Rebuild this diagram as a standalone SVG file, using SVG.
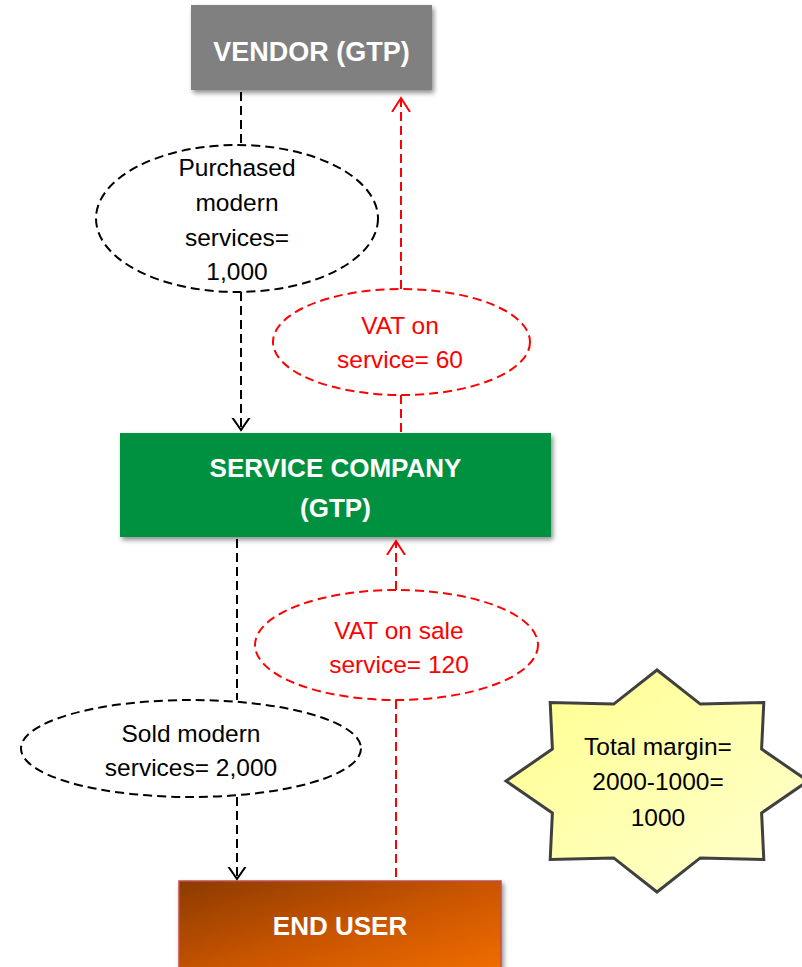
<svg xmlns="http://www.w3.org/2000/svg" width="802" height="967" viewBox="0 0 802 967">
  <style>
    .box-label { font-family: "Liberation Sans", Arial, sans-serif; font-weight: bold; fill: #ffffff; text-anchor: middle; }
    .label { font-family: "Liberation Sans", Arial, sans-serif; font-size: 24.5px; text-anchor: middle; }
    .black { fill: #000000; }
    .red { fill: #ff0000; }
    .flow { fill: none; stroke: #000000; stroke-width: 2; stroke-dasharray: 9 5; }
    .vat { fill: none; stroke: #ff0000; stroke-width: 2; stroke-dasharray: 9 5; }
    .bubble { fill: #ffffff; stroke: #000000; stroke-width: 2; stroke-dasharray: 9 5; }
    .bubble-red { fill: #ffffff; stroke: #ff0000; stroke-width: 2; stroke-dasharray: 9 5; }
  </style>
  <defs>
    <filter id="shadow" x="-10%" y="-10%" width="120%" height="130%">
      <feGaussianBlur in="SourceAlpha" stdDeviation="2.5"/>
      <feOffset dx="2" dy="3" result="blur"/>
      <feComponentTransfer><feFuncA type="linear" slope="0.45"/></feComponentTransfer>
      <feMerge><feMergeNode/><feMergeNode in="SourceGraphic"/></feMerge>
    </filter>
    <linearGradient id="endUserFill" x1="0" y1="0" x2="1" y2="1">
      <stop offset="0" stop-color="#8c3a00"/>
      <stop offset="0.5" stop-color="#c95500"/>
      <stop offset="1" stop-color="#f57000"/>
    </linearGradient>
    <linearGradient id="starFill" x1="0" y1="0" x2="1" y2="1">
      <stop offset="0" stop-color="#ffff8c"/>
      <stop offset="1" stop-color="#ffffd2"/>
    </linearGradient>
    <marker id="arrowBlack" viewBox="-12 -12 24 24" markerWidth="24" markerHeight="24" refX="0" refY="0" orient="auto" markerUnits="userSpaceOnUse">
      <path d="M -13 -9 L 0 0 L -13 9" fill="none" stroke="#000000" stroke-width="2"/>
    </marker>
    <marker id="arrowRed" viewBox="-14 -12 28 24" markerWidth="28" markerHeight="24" refX="0" refY="0" orient="auto" markerUnits="userSpaceOnUse">
      <path d="M -14 -9 L 0 0 L -14 9" fill="none" stroke="#ff0000" stroke-width="2"/>
    </marker>
  </defs>

  <rect width="802" height="967" fill="#ffffff"/>

  <!-- flows between the parties -->
  <g id="connectors">
    <line class="flow" x1="241" y1="92" x2="241" y2="145"/>
    <line class="flow" x1="241" y1="292" x2="241" y2="430" marker-end="url(#arrowBlack)"/>
    <line class="flow" x1="237" y1="539" x2="237" y2="700"/>
    <line class="flow" x1="237" y1="797" x2="237" y2="879" marker-end="url(#arrowBlack)"/>
    <line class="vat" x1="401" y1="289" x2="401" y2="98" marker-end="url(#arrowRed)"/>
    <line class="vat" x1="401" y1="395" x2="401" y2="433"/>
    <line class="vat" x1="396" y1="590" x2="396" y2="541" marker-end="url(#arrowRed)"/>
    <line class="vat" x1="396" y1="700" x2="396" y2="881"/>
  </g>

  <g id="vendor">
    <rect x="191" y="5" width="241" height="85" fill="#808080" filter="url(#shadow)"/>
    <text class="box-label" x="311.5" y="61" font-size="27">VENDOR (GTP)</text>
  </g>

  <g id="purchased">
    <ellipse class="bubble" cx="237" cy="218.5" rx="141" ry="73.5"/>
    <text class="label black" x="237" y="176">Purchased</text>
    <text class="label black" x="237" y="211">modern</text>
    <text class="label black" x="237" y="246">services=</text>
    <text class="label black" x="237" y="280">1,000</text>
  </g>

  <g id="vat-purchase">
    <ellipse class="bubble-red" cx="401.5" cy="342" rx="128.5" ry="53"/>
    <text class="label red" x="400" y="334">VAT on</text>
    <text class="label red" x="400" y="368">service= 60</text>
  </g>

  <g id="service-company">
    <rect x="120" y="433" width="431" height="104" fill="#009140" filter="url(#shadow)"/>
    <text class="box-label" x="335.5" y="477" font-size="26">SERVICE COMPANY</text>
    <text class="box-label" x="335.5" y="517" font-size="26">(GTP)</text>
  </g>

  <g id="vat-sale">
    <ellipse class="bubble-red" cx="396.5" cy="645" rx="141.5" ry="55"/>
    <text class="label red" x="399" y="639">VAT on sale</text>
    <text class="label red" x="399" y="673">service= 120</text>
  </g>

  <g id="sold">
    <ellipse class="bubble" cx="191" cy="748.5" rx="170" ry="48.5"/>
    <text class="label black" x="191" y="742">Sold modern</text>
    <text class="label black" x="191" y="776">services= 2,000</text>
  </g>

  <g id="end-user">
    <rect x="179" y="881" width="322" height="100" fill="url(#endUserFill)" stroke="#c0504d" stroke-width="1.5" filter="url(#shadow)"/>
    <text class="box-label" x="340" y="935" font-size="26">END USER</text>
  </g>

  <g id="total-margin">
    <polygon points="808,781 761.6,749.1 763.8,702.5 700.3,704.1 657,670 613.7,704.1 550.2,702.5 552.4,749.1 506,781 552.4,812.9 550.2,859.5 613.7,857.9 657,892 700.3,857.9 763.8,859.5 761.6,812.9" fill="url(#starFill)" stroke="#404040" stroke-width="3" stroke-linejoin="miter"/>
    <text class="label black" x="658" y="755">Total margin=</text>
    <text class="label black" x="658" y="790">2000-1000=</text>
    <text class="label black" x="658" y="826">1000</text>
  </g>
</svg>
